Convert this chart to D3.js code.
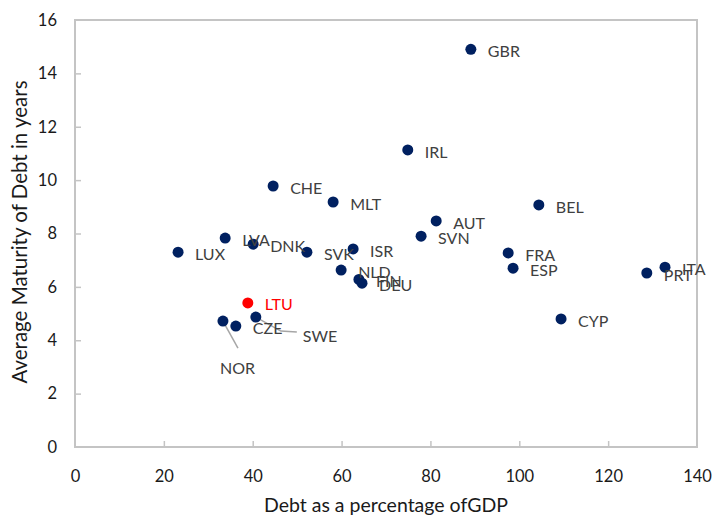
<!DOCTYPE html>
<html>
<head>
<meta charset="utf-8">
<script src="https://cdn.jsdelivr.net/npm/d3@7"></script>
<style>
  body { margin: 0; background: #fff; }
  svg { display: block; font-family: Lato, "Open Sans", sans-serif; }
</style>
</head>
<body>
<div id="chart"></div>
<script>
// country codes, debt (% of GDP) and average maturity (years)
const countries = ["GBR", "IRL", "CHE", "MLT", "BEL", "AUT", "SVN", "LVA", "DNK", "LUX", "SVK", "ISR",
  "FRA", "ESP", "ITA", "PRT", "NLD", "FIN", "DEU", "LTU", "NOR", "CZE", "SWE", "CYP"];
const debt = [89.1, 74.9, 44.6, 58.1, 104.4, 81.3, 77.9, 33.8, 40.1, 23.2, 52.2, 62.6,
  97.5, 98.6, 132.8, 128.7, 59.9, 63.9, 64.6, 38.9, 33.3, 36.2, 40.7, 109.4];
const maturity = [14.9, 11.13, 9.78, 9.18, 9.07, 8.47, 7.9, 7.83, 7.6, 7.3, 7.3, 7.42,
  7.27, 6.7, 6.74, 6.52, 6.63, 6.28, 6.14, 5.4, 4.72, 4.53, 4.87, 4.8];
const xTicks = [0, 20, 40, 60, 80, 100, 120, 140];
const yTicks = [0, 2, 4, 6, 8, 10, 12, 14, 16];
const highlight = "LTU";

const data = countries.map((c, i) => ({ name: c, x: debt[i], y: maturity[i] }));

const width = 712, height = 516;
const margin = { top: 20, right: 15, bottom: 69, left: 75 };

const svg = d3.select("#chart").append("svg")
  .attr("width", width)
  .attr("height", height);

const x = d3.scaleLinear().domain([0, 140]).range([margin.left, width - margin.right]);
const y = d3.scaleLinear().domain([0, 16]).range([height - margin.bottom, margin.top]);

const grey = "#c4c4c4";

// plot border
svg.append("rect")
  .attr("x", x(0)).attr("y", y(16))
  .attr("width", x(140) - x(0)).attr("height", y(0) - y(16))
  .attr("fill", "none").attr("stroke", grey).attr("stroke-width", 2);

// axes: inward ticks, labels drawn by axis
const xAxis = svg.append("g")
  .attr("transform", `translate(0,${y(0)})`)
  .call(d3.axisBottom(x).tickValues(xTicks).tickSizeInner(-6).tickSizeOuter(0).tickPadding(23));
const yAxis = svg.append("g")
  .attr("transform", `translate(${x(0)},0)`)
  .call(d3.axisLeft(y).tickValues(yTicks).tickSizeInner(-6).tickSizeOuter(0).tickPadding(18));

[xAxis, yAxis].forEach(g => {
  g.select(".domain").remove();
  g.selectAll(".tick line").attr("stroke", grey).attr("stroke-width", 1.5);
  g.selectAll(".tick text").attr("font-size", 16.5).attr("fill", "#1a1a1a")
    .attr("font-family", "Lato, sans-serif");
});
// drop the end ticks that sit on the border
xAxis.selectAll(".tick").filter(d => d === 0 || d === 140).select("line").remove();
yAxis.selectAll(".tick").filter(d => d === 0 || d === 16).select("line").remove();

// axis titles
svg.append("text")
  .attr("x", 386).attr("y", 512)
  .attr("text-anchor", "middle")
  .attr("font-size", 19.5).attr("fill", "#1a1a1a")
  .text("Debt as a percentage ofGDP");

svg.append("text")
  .attr("transform", `translate(27,232) rotate(-90)`)
  .attr("text-anchor", "middle")
  .attr("font-size", 20.5).attr("fill", "#1a1a1a")
  .text("Average Maturity of Debt in years");

// labels moved away from their points, with leader lines
const moved = {
  NOR: { dx: -3, dy: 47, leader: [[0, 0], [15, 27]] },
  SWE: { dx: 47, dy: 19, leader: [[0, 0], [25, 14], [41, 15]] }
};

const lineGen = d3.line();
data.forEach(d => {
  const m = moved[d.name];
  if (m) {
    svg.append("path")
      .attr("d", lineGen(m.leader.map(p => [x(d.x) + p[0], y(d.y) + p[1]])))
      .attr("fill", "none").attr("stroke", "#a6a6a6").attr("stroke-width", 1.5);
  }
});

// points
svg.selectAll("circle.pt")
  .data(data)
  .enter()
  .append("circle")
  .attr("class", "pt")
  .attr("cx", d => x(d.x))
  .attr("cy", d => y(d.y))
  .attr("r", 5.5)
  .attr("fill", d => d.name === highlight ? "#ff0000" : "#002060");

// point labels
svg.selectAll("text.lbl")
  .data(data)
  .enter()
  .append("text")
  .attr("class", "lbl")
  .attr("x", d => x(d.x) + (moved[d.name] ? moved[d.name].dx : 17))
  .attr("y", d => y(d.y) + (moved[d.name] ? moved[d.name].dy : 2))
  .attr("dy", "0.35em")
  .attr("font-size", 16)
  .attr("fill", d => d.name === highlight ? "#ff0000" : "#404040")
  .text(d => d.name);
</script>
</body>
</html>
